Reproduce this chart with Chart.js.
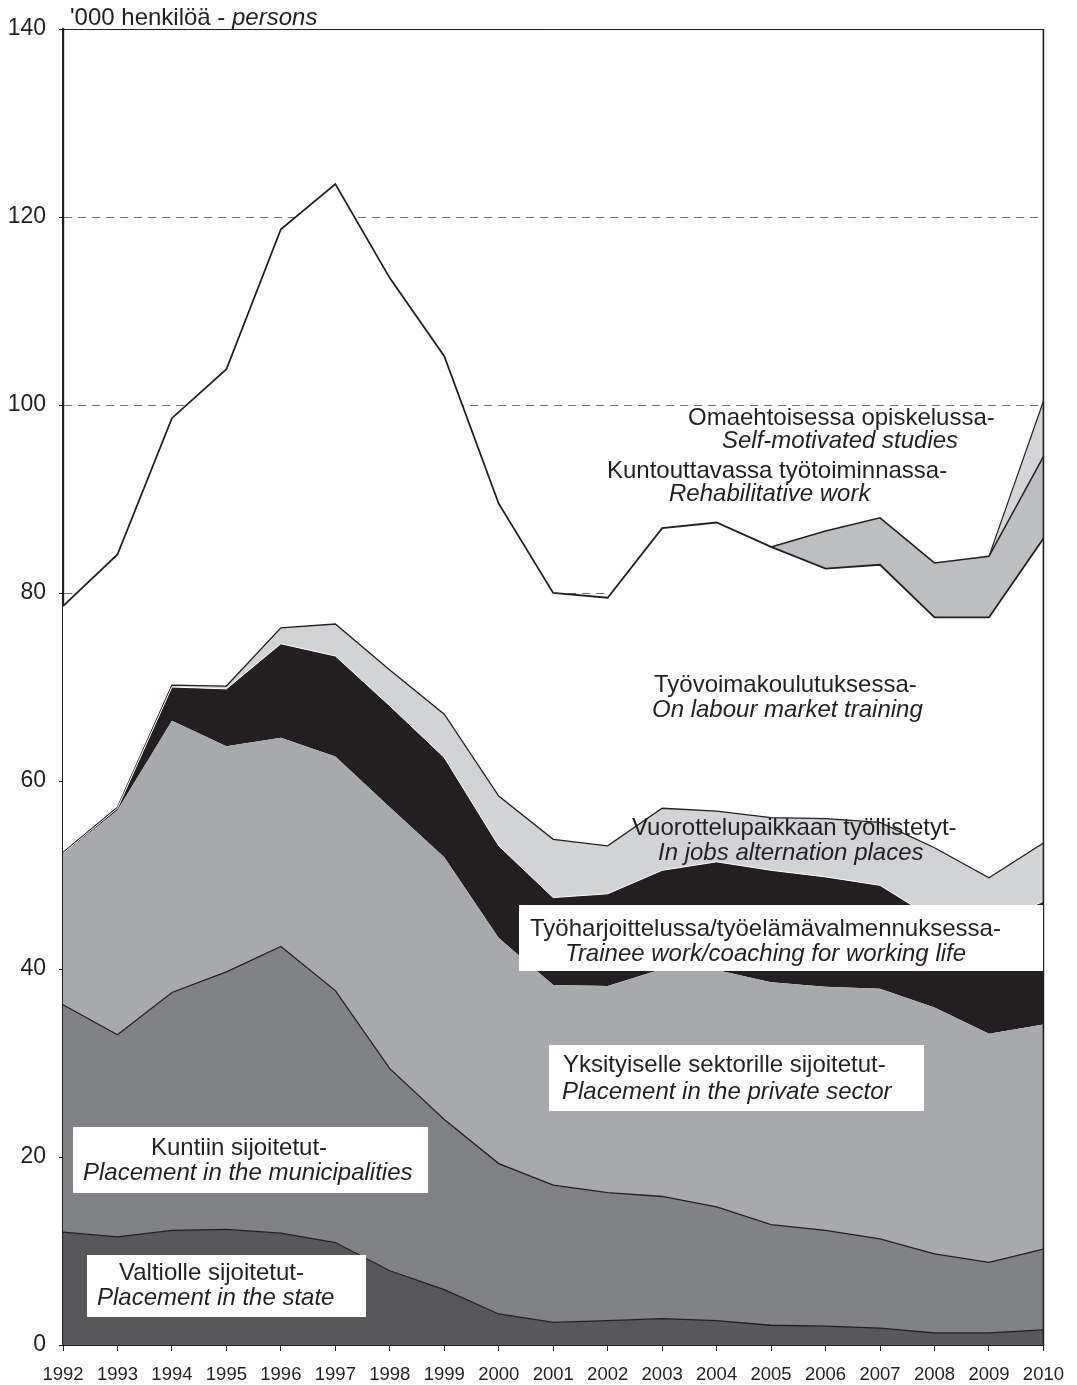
<!DOCTYPE html>
<html>
<head>
<meta charset="utf-8">
<script src="https://cdn.jsdelivr.net/npm/chart.js@4.4.1/dist/chart.umd.min.js"></script>
<style>
html,body{margin:0;padding:0;background:#ffffff;}
canvas{display:block;}
</style>
</head>
<body>
<canvas id="c" width="1077" height="1385"></canvas>
<script>
// ---- data ('000 persons) ----
const years = ['1992','1993','1994','1995','1996','1997','1998','1999','2000','2001','2002','2003','2004','2005','2006','2007','2008','2009','2010'];
const state            = [12.0, 11.5, 12.2, 12.3, 11.9, 10.9, 7.9, 5.9, 3.3, 2.4, 2.6, 2.8, 2.6, 2.1, 2.0, 1.8, 1.3, 1.3, 1.6];
const municipalities   = [24.2, 21.5, 25.3, 27.4, 30.5, 26.8, 21.5, 18.1, 16.0, 14.6, 13.6, 13.0, 12.1, 10.7, 10.2, 9.5, 8.4, 7.5, 8.6];
const privateSector    = [16.0, 23.9, 28.9, 24.0, 22.2, 24.9, 27.8, 27.9, 24.0, 21.3, 22.0, 24.2, 25.2, 25.8, 25.9, 26.6, 26.2, 24.3, 23.9];
const traineeWork      = [0.1, 0.2, 3.6, 6.1, 10.0, 10.7, 10.8, 10.6, 9.8, 9.3, 9.8, 10.5, 11.5, 11.9, 11.7, 11.0, 9.4, 11.5, 13.1];
const jobsAlternation  = [0.1, 0.1, 0.2, 0.3, 1.7, 3.4, 3.8, 4.6, 5.3, 6.2, 5.1, 6.6, 5.4, 5.6, 6.2, 6.7, 7.6, 5.1, 6.2];
const labourTraining   = [26.2, 26.9, 28.4, 33.7, 42.4, 46.8, 41.7, 38.1, 31.1, 26.2, 26.4, 29.8, 30.7, 28.8, 26.6, 27.4, 24.5, 27.7, 32.4];
const rehabilitative   = [null, null, null, null, null, null, null, null, null, null, null, null, null, 0, 4.0, 5.0, 5.8, 6.5, 8.7];
const selfMotivated    = [null, null, null, null, null, null, null, null, null, null, null, null, null, null, null, null, null, 0, 5.9];

const yMin = 0, yMax = 140, yStep = 20;

const axisTitle = ["'000 henkilöä - ", "persons"];
const labelTexts = {
  self:     ['Omaehtoisessa opiskelussa-', 'Self-motivated studies'],
  rehab:    ['Kuntouttavassa työtoiminnassa-', 'Rehabilitative work'],
  training: ['Työvoimakoulutuksessa-', 'On labour market training'],
  alt:      ['Vuorottelupaikkaan työllistetyt-', 'In jobs alternation places'],
  trainee:  ['Työharjoittelussa/työelämävalmennuksessa-', 'Trainee work/coaching for working life'],
  priv:     ['Yksityiselle sektorille sijoitetut-', 'Placement in the private sector'],
  muni:     ['Kuntiin sijoitetut-', 'Placement in the municipalities'],
  state:    ['Valtiolle sijoitetut-', 'Placement in the state']
};

// ---- styling ----
const FONT = "'Liberation Sans', Arial, Helvetica, sans-serif";
const INK = '#231f20';

const labelLayout = [
  {key:'self',     lines:[[688,425],[722,448]]},
  {key:'rehab',    lines:[[607,478],[669,501]]},
  {key:'training', lines:[[654,692],[652,717]]},
  {key:'alt',      lines:[[632,835],[658,860]]},
  {key:'trainee',  box:[519,905,1043,971],  lines:[[530,936],[565,961]]},
  {key:'priv',     box:[549,1045,924,1111], lines:[[563,1072],[562,1099]]},
  {key:'muni',     box:[73,1127,428,1193],  lines:[[151,1155],[83,1180]]},
  {key:'state',    box:[87,1255,366,1317],  lines:[[119,1280],[97,1305]]}
];

const annotPlugin = {
  id: 'annot',
  afterDraw(chart) {
    const ctx = chart.ctx;
    const a = chart.chartArea;
    ctx.save();
    // frame: top and right
    ctx.strokeStyle = INK;
    ctx.lineWidth = 1;
    ctx.beginPath();
    ctx.moveTo(a.left, a.top + 0.5);
    ctx.lineTo(a.right, a.top + 0.5);
    ctx.stroke();
    ctx.lineWidth = 1.6;
    ctx.beginPath();
    ctx.moveTo(a.right, a.top);
    ctx.lineTo(a.right, a.bottom);
    ctx.stroke();

    ctx.fillStyle = INK;
    ctx.textBaseline = 'alphabetic';
    ctx.textAlign = 'left';
    // axis title
    ctx.font = '24px ' + FONT;
    ctx.fillText(axisTitle[0], 70, 25);
    const w = ctx.measureText(axisTitle[0]).width;
    ctx.font = 'italic 24px ' + FONT;
    ctx.fillText(axisTitle[1], 70 + w, 25);

    labelLayout.forEach(l => {
      if (l.box) {
        ctx.fillStyle = '#ffffff';
        ctx.fillRect(l.box[0], l.box[1], l.box[2] - l.box[0], l.box[3] - l.box[1]);
      }
      ctx.fillStyle = INK;
      const t = labelTexts[l.key];
      ctx.font = '24px ' + FONT;
      ctx.fillText(t[0], l.lines[0][0], l.lines[0][1]);
      ctx.font = 'italic 24px ' + FONT;
      ctx.fillText(t[1], l.lines[1][0], l.lines[1][1]);
    });
    ctx.restore();
  }
};

function area(label, data, fill, bg, border, bw) {
  return {
    label, data, fill,
    backgroundColor: bg,
    borderColor: border,
    borderWidth: bw,
    pointRadius: 0,
    pointHoverRadius: 0,
    tension: 0,
    spanGaps: false
  };
}

new Chart(document.getElementById('c'), {
  type: 'line',
  data: {
    labels: years,
    datasets: [
      area('Valtiolle sijoitetut', state, 'origin', '#58585b', INK, 1.3),
      area('Kuntiin sijoitetut', municipalities, '-1', '#818286', INK, 1.3),
      area('Yksityiselle sektorille sijoitetut', privateSector, '-1', '#a7a9ac', 'rgba(0,0,0,0)', 0),
      area('Työharjoittelussa', traineeWork, '-1', '#231f20', '#ffffff', 1),
      area('Vuorottelupaikkaan työllistetyt', jobsAlternation, '-1', '#d1d3d4', INK, 1.3),
      area('Työvoimakoulutuksessa', labourTraining, '-1', '#ffffff', INK, 1.8),
      area('Kuntouttavassa työtoiminnassa', rehabilitative, '-1', '#bcbec0', INK, 1.5),
      area('Omaehtoisessa opiskelussa', selfMotivated, '-1', '#d4d5d7', INK, 1.2)
    ]
  },
  options: {
    responsive: false,
    maintainAspectRatio: false,
    animation: false,
    devicePixelRatio: 1,
    layout: { padding: { top: 29, right: 31, left: 0, bottom: 0 } },
    plugins: {
      legend: { display: false },
      tooltip: { enabled: false },
      title: { display: false }
    },
    elements: { line: { borderJoinStyle: 'miter' } },
    scales: {
      x: {
        type: 'category',
        offset: false,
        afterFit(s) { s.height = 40; },
        grid: { drawOnChartArea: false, drawTicks: true, tickLength: 6, tickColor: INK, tickWidth: 1, tickBorderDash: [] },
        border: { display: true, color: INK, width: 2 },
        ticks: {
          autoSkip: false, maxRotation: 0, minRotation: 0,
          color: INK, padding: 13,
          font: { family: FONT, size: 18.5 }
        }
      },
      y: {
        stacked: true,
        min: yMin, max: yMax,
        afterFit(s) { s.width = 63; },
        grid: {
          drawOnChartArea: true,
          color: '#6d6e71',
          lineWidth: 1,
          drawTicks: true,
          tickLength: 4,
          tickColor: INK,
          tickWidth: 1,
          tickBorderDash: []
        },
        border: { display: true, color: INK, width: 2.2, dash: [8, 6] },
        ticks: {
          stepSize: yStep,
          color: INK,
          padding: 13,
          font: { family: FONT, size: 23 }
        }
      }
    }
  },
  plugins: [annotPlugin]
});
</script>
</body>
</html>
